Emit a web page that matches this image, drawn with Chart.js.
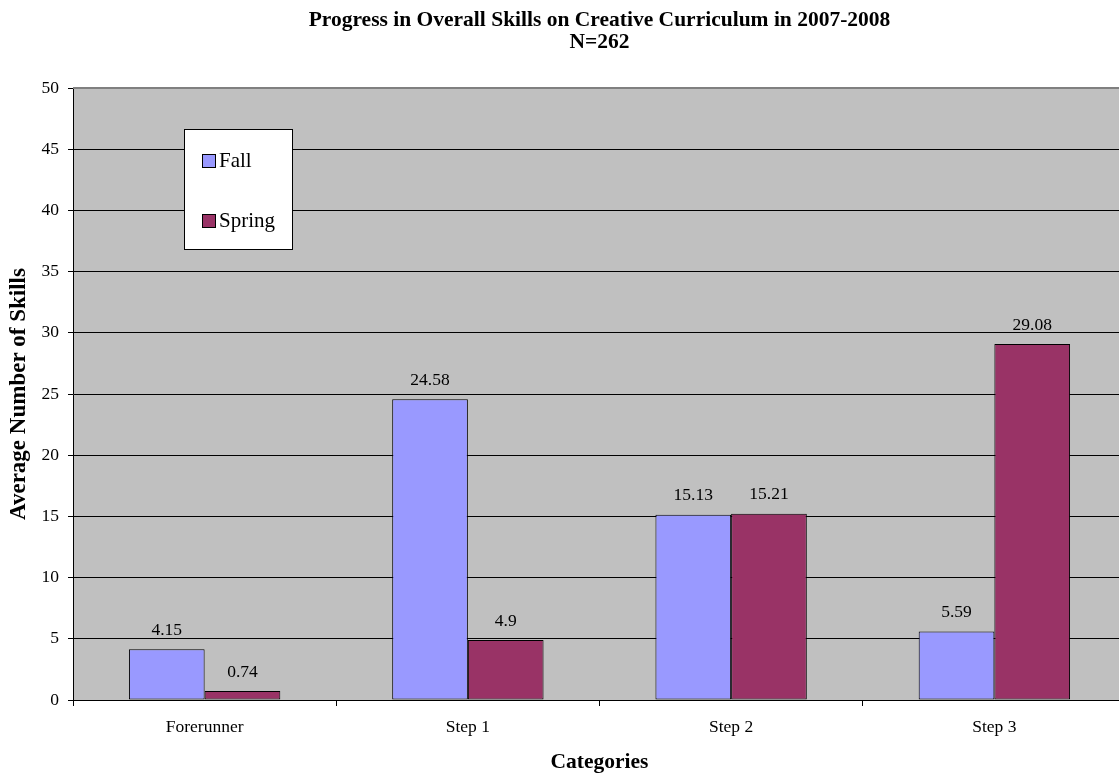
<!DOCTYPE html>
<html>
<head>
<meta charset="utf-8">
<script src="https://cdn.jsdelivr.net/npm/chart.js@4/dist/chart.umd.min.js"></script>
<style>
html,body{margin:0;padding:0;background:#fff;overflow:hidden;}
#wrap{width:1119px;height:775px;position:relative;overflow:hidden;}
#c{position:absolute;left:0;top:0;}
</style>
</head>
<body>
<div id="wrap"><canvas id="c" width="1130" height="775"></canvas></div>
<script>
const categories = ['Forerunner', 'Step 1', 'Step 2', 'Step 3'];
const fallValues = [4.15, 24.58, 15.13, 5.59];
const springValues = [0.74, 4.9, 15.21, 29.08];
const seriesNames = ['Fall', 'Spring'];
const titleLines = ['Progress in Overall Skills on Creative Curriculum in 2007-2008', 'N=262'];
const yTitle = 'Average Number of Skills';
const xTitle = 'Categories';

const FONT = "'Liberation Serif', 'Times New Roman', serif";

const bgPlugin = {
  id: 'plotBg',
  beforeDraw(chart) {
    const {ctx, chartArea: a} = chart;
    ctx.save();
    ctx.fillStyle = '#C0C0C0';
    ctx.fillRect(a.left, a.top, a.right - a.left, a.bottom - a.top);
    ctx.restore();
  },
  afterDatasetsDraw(chart) {
    const {ctx, chartArea: a} = chart;
    ctx.save();
    ctx.strokeStyle = '#808080';
    ctx.lineWidth = 2;
    ctx.beginPath();
    ctx.moveTo(a.left, a.top);
    ctx.lineTo(a.right, a.top);
    ctx.lineTo(a.right, a.bottom);
    ctx.stroke();
    ctx.restore();
  }
};

const labelPlugin = {
  id: 'valueLabels',
  afterDatasetsDraw(chart) {
    const {ctx} = chart;
    ctx.save();
    ctx.font = '17.5px ' + FONT;
    ctx.fillStyle = '#000';
    ctx.textAlign = 'center';
    ctx.textBaseline = 'middle';
    chart.data.datasets.forEach((ds, i) => {
      const meta = chart.getDatasetMeta(i);
      meta.data.forEach((bar, j) => {
        ctx.fillText(String(ds.data[j]), bar.x, bar.y - 19);
      });
    });
    ctx.restore();
  }
};

const legendPlugin = {
  id: 'boxLegend',
  afterDraw(chart) {
    const {ctx} = chart;
    const x0 = 184, y0 = 129, w = 108, h = 120;
    ctx.save();
    ctx.fillStyle = '#fff';
    ctx.fillRect(x0, y0, w, h);
    ctx.strokeStyle = '#000';
    ctx.lineWidth = 1;
    ctx.strokeRect(x0 + 0.5, y0 + 0.5, w, h);
    ctx.font = '21px ' + FONT;
    ctx.textBaseline = 'middle';
    ctx.textAlign = 'left';
    chart.data.datasets.forEach((ds, i) => {
      const sy = 154 + i * 60;
      ctx.fillStyle = ds.backgroundColor;
      ctx.fillRect(202, sy, 14, 14);
      ctx.strokeStyle = '#000';
      ctx.strokeRect(202.5, sy + 0.5, 13, 13);
      ctx.fillStyle = '#000';
      ctx.fillText(ds.label, 219, sy + 7);
    });
    ctx.restore();
  }
};

new Chart(document.getElementById('c'), {
  type: 'bar',
  data: {
    labels: categories,
    datasets: [
      {label: seriesNames[0], data: fallValues, backgroundColor: '#9999FF', borderColor: '#000', borderWidth: 1, borderSkipped: false},
      {label: seriesNames[1], data: springValues, backgroundColor: '#993366', borderColor: '#000', borderWidth: 1, borderSkipped: false}
    ]
  },
  options: {
    responsive: false,
    animation: false,
    layout: {padding: {left: 0, right: 4, top: 0, bottom: 0}},
    datasets: {bar: {categoryPercentage: 0.575, barPercentage: 1.0}},
    plugins: {
      legend: {display: false},
      tooltip: {enabled: false},
      title: {
        display: true,
        text: titleLines,
        fullSize: false,
        color: '#000',
        font: {family: FONT, size: 21.5, weight: 'bold', lineHeight: 22 / 21.5},
        padding: {top: 9, bottom: 35}
      }
    },
    scales: {
      x: {
        offset: true,
        grid: {display: true, drawOnChartArea: false, drawTicks: true, tickLength: 6, color: '#000', offset: true},
        border: {display: true, color: '#000', width: 1},
        ticks: {color: '#000', font: {family: FONT, size: 17.5}, padding: 11},
        title: {display: true, text: xTitle, color: '#000', font: {family: FONT, size: 21.5, weight: 'bold'}, padding: {top: 0, bottom: 0}},
        afterFit(s) { s.height = 75; }
      },
      y: {
        min: 0, max: 50,
        ticks: {stepSize: 5, color: '#000', font: {family: FONT, size: 17.5}, padding: 9},
        grid: {color: '#000', tickLength: 5, tickColor: '#000', lineWidth: 1},
        border: {display: true, color: '#000', width: 1},
        title: {display: true, text: yTitle, color: '#000', font: {family: FONT, size: 23, weight: 'bold'}, padding: {top: 5, bottom: 0}},
        afterFit(s) { s.width = 73; }
      }
    }
  },
  plugins: [bgPlugin, labelPlugin, legendPlugin]
});
</script>
</body>
</html>
